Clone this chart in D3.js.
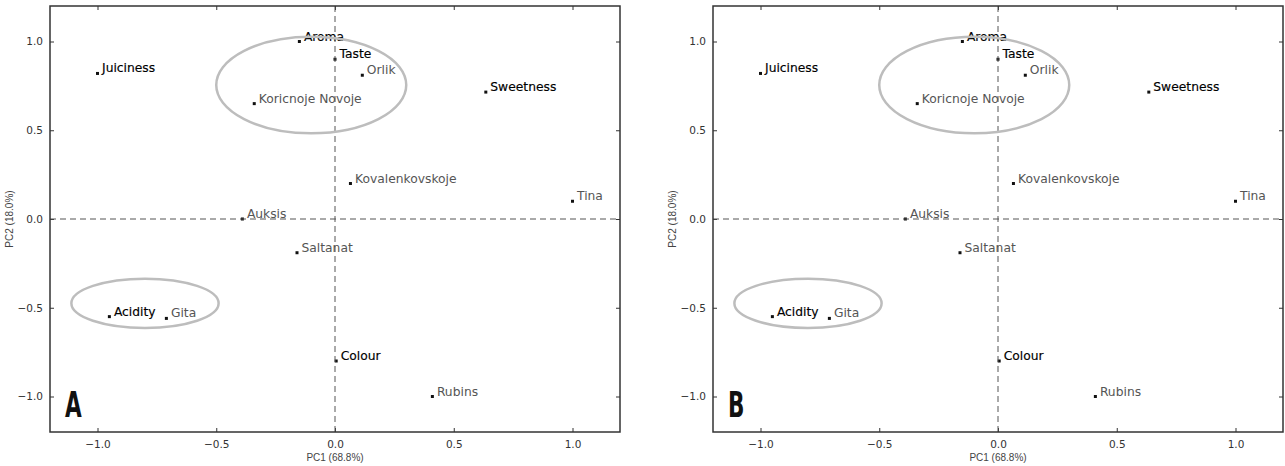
<!DOCTYPE html>
<html>
<head>
<meta charset="utf-8">
<script src="https://cdn.jsdelivr.net/npm/d3@7"></script>
<style>
  html, body { margin: 0; padding: 0; background: #fff; }
  svg { display: block; }
</style>
</head>
<body>
<svg id="chart" width="1285" height="466"></svg>
<script>
// ---- data ----
const names = ["Juiciness","Aroma","Taste","Orlik","Koricnoje Novoje","Sweetness","Kovalenkovskoje","Tina","Auksis","Saltanat","Acidity","Gita","Colour","Rubins"];
const pc1   = [-1.00, -0.15, 0.00, 0.115, -0.34, 0.635, 0.065, 1.00, -0.39, -0.16, -0.95, -0.71, 0.005, 0.41];
const pc2   = [ 0.82,  1.00, 0.90, 0.81,  0.65,  0.715, 0.20,  0.10,  0.00, -0.19, -0.55, -0.56, -0.80, -1.00];
const kinds = ["var","var","var","sample","sample","var","sample","sample","sample","sample","var","sample","var","sample"];
const ellipseCx = [-0.10, -0.80];
const ellipseCy = [ 0.755, -0.475];
const ellipseRx = [ 0.40, 0.31];
const ellipseRy = [ 0.272, 0.139];
const xTicks = [-1.0, -0.5, 0.0, 0.5, 1.0];
const yTicks = [-1.0, -0.5, 0.0, 0.5, 1.0];
const panelLetters = ["A", "B"];
const xLabel = "PC1 (68.8%)";
const yLabel = "PC2 (18.0%)";

const svg = d3.select("#chart");
const panelLefts = [50, 713];
const plotW = 570, plotTop = 6, plotBottom = 432;

panelLetters.forEach((letter, pi) => {
  const left = panelLefts[pi];
  const x = d3.scaleLinear().domain([-1.2, 1.2]).range([left, left + plotW]);
  const y = d3.scaleLinear().domain([-1.2, 1.2]).range([plotBottom, plotTop]);
  const g = svg.append("g");

  const fmt = d3.format(".1f");
  const axB = g.append("g").attr("transform", `translate(0,${plotBottom})`)
    .call(d3.axisBottom(x).tickValues(xTicks).tickFormat(fmt).tickSizeInner(-4).tickSizeOuter(0).tickPadding(9));
  const axT = g.append("g").attr("transform", `translate(0,${plotTop})`)
    .call(d3.axisTop(x).tickValues(xTicks).tickFormat("").tickSizeInner(-4).tickSizeOuter(0));
  const axL = g.append("g").attr("transform", `translate(${left},0)`)
    .call(d3.axisLeft(y).tickValues(yTicks).tickFormat(fmt).tickSizeInner(-4).tickSizeOuter(0).tickPadding(7));
  const axR = g.append("g").attr("transform", `translate(${left + plotW},0)`)
    .call(d3.axisRight(y).tickValues(yTicks).tickFormat("").tickSizeInner(-4).tickSizeOuter(0));
  [axB, axT, axL, axR].forEach(a => {
    a.select(".domain").remove();
    a.selectAll(".tick line").attr("stroke", "#333").attr("stroke-width", 1);
    a.selectAll(".tick text").attr("fill", "#333")
      .style("font-family", "'DejaVu Sans', sans-serif").style("font-size", "10.5px");
  });

  // point labels
  g.selectAll("text.lbl").data(names).enter().append("text")
    .attr("class", "lbl")
    .attr("x", (d, i) => x(pc1[i]) + 4.5)
    .attr("y", (d, i) => y(pc2[i]) - 1)
    .attr("fill", (d, i) => kinds[i] === "var" ? "#000" : "#555")
    .attr("stroke", (d, i) => kinds[i] === "var" ? "#000" : "none")
    .attr("stroke-width", 0.15)
    .style("font-family", "'DejaVu Sans', sans-serif")
    .style("font-size", "12.3px")
    .text(d => d);

  // points
  g.selectAll("rect.pt").data(names).enter().append("rect")
    .attr("class", "pt")
    .attr("x", (d, i) => x(pc1[i]) - 1.5)
    .attr("y", (d, i) => y(pc2[i]) - 1.5)
    .attr("width", 3).attr("height", 3)
    .attr("fill", "#111");

  // dashed zero lines
  g.append("line").attr("x1", x(0)).attr("x2", x(0)).attr("y1", plotTop).attr("y2", plotBottom)
    .attr("stroke", "#555").attr("stroke-width", 1).attr("stroke-dasharray", "6,4");
  g.append("line").attr("x1", left).attr("x2", left + plotW).attr("y1", y(0)).attr("y2", y(0))
    .attr("stroke", "#555").attr("stroke-width", 1).attr("stroke-dasharray", "6,4");

  // ellipses
  g.selectAll("ellipse").data(ellipseCx).enter().append("ellipse")
    .attr("cx", (d, i) => x(ellipseCx[i]))
    .attr("cy", (d, i) => y(ellipseCy[i]))
    .attr("rx", (d, i) => x(ellipseRx[i]) - x(0))
    .attr("ry", (d, i) => y(0) - y(ellipseRy[i]))
    .attr("fill", "none").attr("stroke", "#bdbdbd").attr("stroke-width", 2.5);

  // frame
  g.append("rect").attr("x", left).attr("y", plotTop).attr("width", plotW).attr("height", plotBottom - plotTop)
    .attr("fill", "none").attr("stroke", "#333").attr("stroke-width", 1.5);

  // axis labels
  g.append("text").attr("x", x(0)).attr("y", 461).attr("text-anchor", "middle")
    .attr("fill", "#444").style("font-family", "'Liberation Sans', Arial, sans-serif").style("font-size", "10px")
    .text(xLabel);
  g.append("text").attr("transform", `translate(${left - 37},${y(0)}) rotate(-90)`)
    .attr("text-anchor", "middle")
    .attr("fill", "#444").style("font-family", "'Liberation Sans', Arial, sans-serif").style("font-size", "10px")
    .text(yLabel);

  // panel letter
  g.append("text").attr("transform", `translate(${left + 15},417) scale(0.6,1)`)
    .attr("fill", "#111").style("font-family", "'DejaVu Sans', sans-serif")
    .style("font-size", "36px").style("font-weight", "bold")
    .text(letter);
});
</script>
</body>
</html>
